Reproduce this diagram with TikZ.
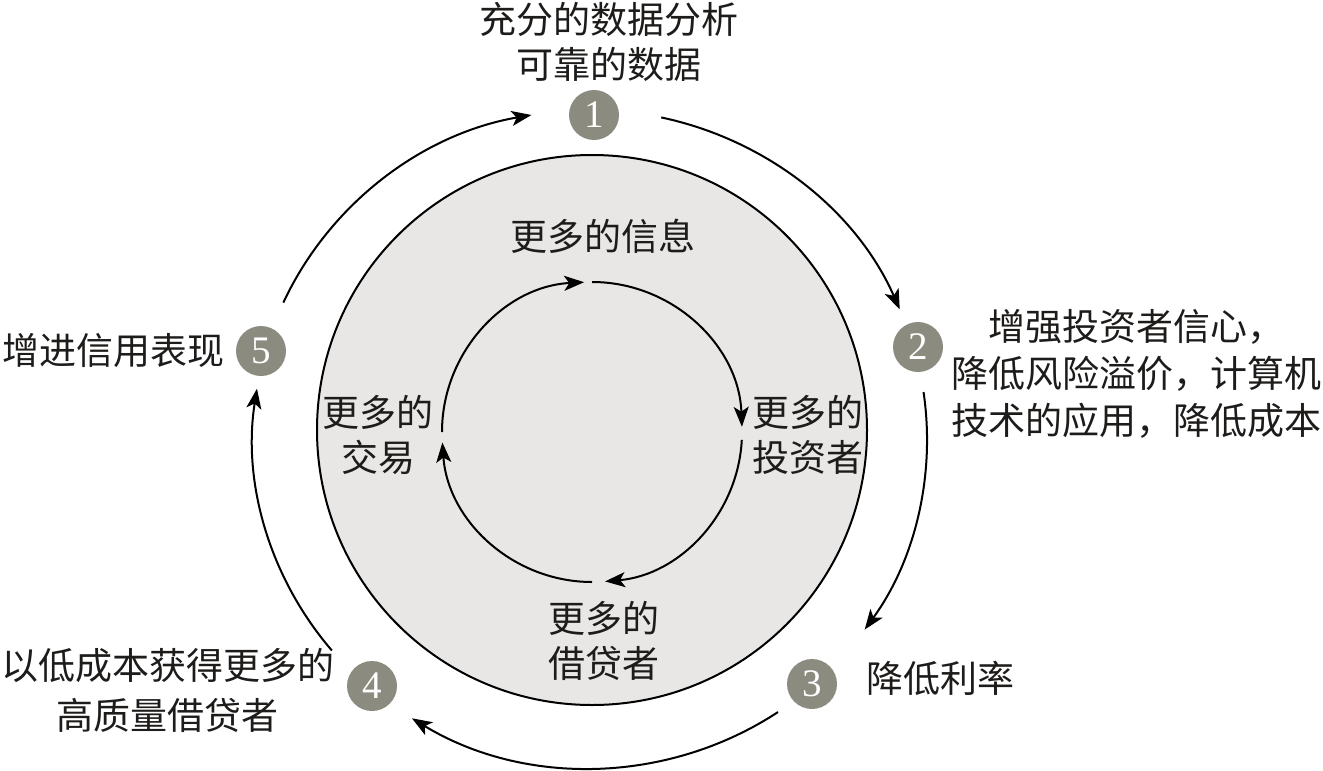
\documentclass[tikz,border=0pt]{standalone}
\usepackage{fontspec}
\newfontfamily\cjk{Noto Sans CJK SC}
\newfontfamily\numfont{Liberation Serif}
\usetikzlibrary{arrows.meta,calc}
\definecolor{numgray}{RGB}{140,139,128}
\definecolor{disk}{RGB}{232,231,230}
\definecolor{ink}{RGB}{30,28,26}
\tikzset{
  arr/.style={line width=1pt,-{Stealth[length=10pt,width=7.5pt,inset=2.5pt]}},
  numnode/.style={circle,fill=numgray,minimum size=25pt,inner sep=0pt,text=white,font=\numfont\fontsize{19.5}{19.5}\selectfont},
  lbl/.style={text=ink,align=center,inner sep=0pt,font=\cjk\fontsize{18.5}{22.5}\selectfont}
}
\begin{document}
\begin{tikzpicture}[x=0.5pt,y=-0.5pt]
\useasboundingbox (0,0) rectangle (1323,771);
% big disk
\coordinate (D) at (592,430);
\draw[fill=disk,line width=1pt] (D) circle[radius=275];
% inner cycle
\coordinate (C) at (592,432);
\node[lbl] (info) at (603,236) {更多的信息};
\node[lbl] (inv) at (808,435) {更多的\\投资者};
\node[lbl] (bor) at (604,641) {更多的\\借贷者};
\node[lbl] (trd) at (378,435) {更多的\\交易};
\coordinate (i1) at ($(C)+(-90:150)$);
\coordinate (i2) at ($(C)+(3:150)$);
\coordinate (i3) at ($(C)+(90:150)$);
\coordinate (i4) at ($(C)+(180:150)$);
\draw[arr] (i1) arc[start angle=-90,end angle=-2,radius=150];
\draw[arr] (i2) arc[start angle=3,end angle=85,radius=150];
\draw[arr] (i3) arc[start angle=90,end angle=176,radius=150];
\draw[arr] (i4) arc[start angle=180,end angle=267,radius=150];
% outer numbered nodes
\node[numnode] (n1) at (594,115) {1};
\node[numnode] (n2) at (918,347) {2};
\node[numnode] (n3) at (812,684) {3};
\node[numnode] (n4) at (372,686) {4};
\node[numnode] (n5) at (261,351) {5};
% outer labels
\node[lbl] (t1) at (609,42) {充分的数据分析\\可靠的数据};
\node[lbl,font=\cjk\fontsize{18.5}{23.5}\selectfont] (t2) at (1136,374) {增强投资者信心，\\降低风险溢价，计算机\\技术的应用，降低成本};
\node[lbl] (t3) at (940,678) {降低利率};
\node[lbl,font=\cjk\fontsize{18.5}{25}\selectfont] (t4) at (168,690) {以低成本获得更多的\\高质量借贷者};
\node[lbl] (t5) at (114,350) {增进信用表现};
% outer arcs (slightly elliptic)
\coordinate (O) at (590,439);
\def\rx{337}\def\ry{329}
\coordinate (o12) at ($(O)+({\rx*cos(-77.8)},{\ry*sin(-77.8)})$);
\coordinate (o23) at ($(O)+({\rx*cos(-8.2)},{\ry*sin(-8.2)})$);
\coordinate (o34) at ($(O)+({\rx*cos(56.1)},{\ry*sin(56.1)})$);
\coordinate (o45) at ($(O)+({\rx*cos(140)},{\ry*sin(140)})$);
\coordinate (o51) at ($(O)+({\rx*cos(-155.5)},{\ry*sin(-155.5)})$);
\draw[arr] (o12) arc[start angle=-77.8,end angle=-23.2,x radius=\rx,y radius=\ry];
\draw[arr] (o23) arc[start angle=-8.2,end angle=35.4,x radius=\rx,y radius=\ry];
\draw[arr] (o34) arc[start angle=56.1,end angle=121.9,x radius=\rx,y radius=\ry];
\draw[arr] (o45) arc[start angle=140,end angle=188.8,x radius=\rx,y radius=\ry];
\draw[arr] (o51) arc[start angle=-155.5,end angle=-100,x radius=\rx,y radius=\ry];
\end{tikzpicture}
\end{document}
